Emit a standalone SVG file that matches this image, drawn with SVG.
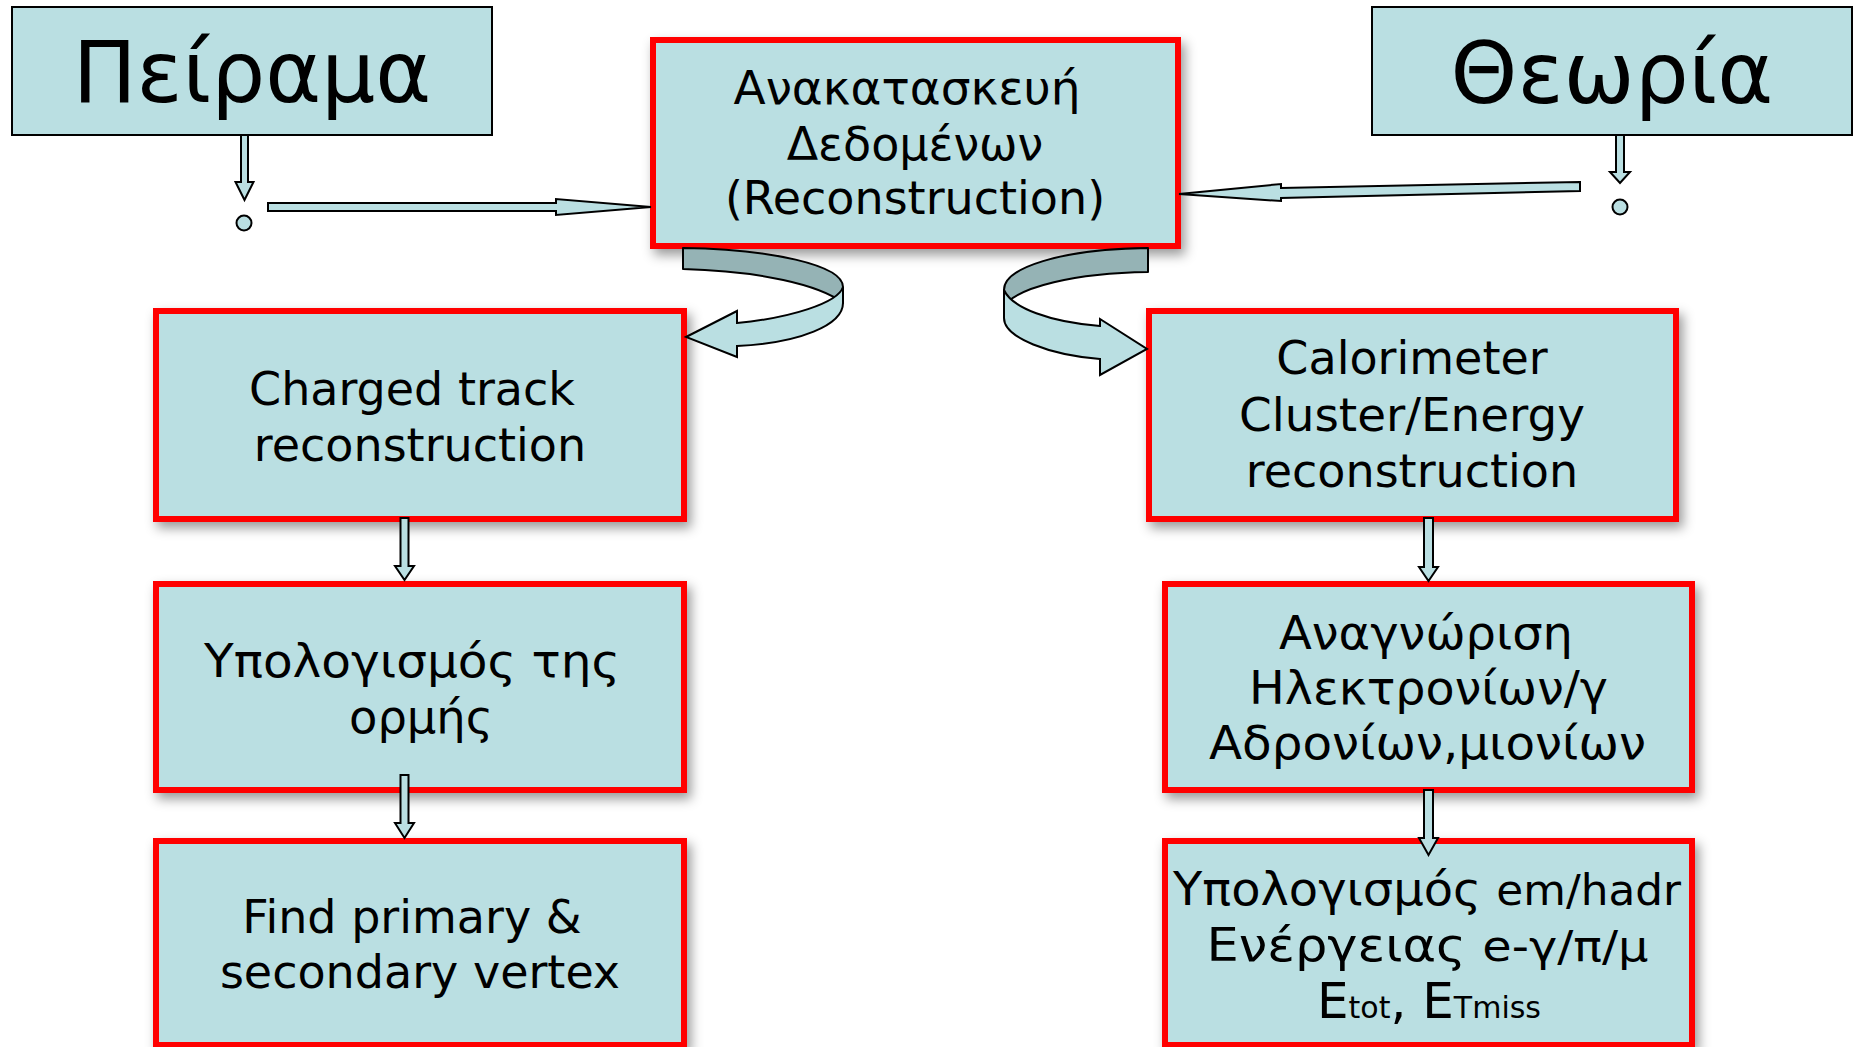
<svg xmlns="http://www.w3.org/2000/svg" width="1856" height="1047" viewBox="0 0 1856 1047">
  <defs>
    <filter id="shadow" x="-10%" y="-10%" width="125%" height="130%">
      <feDropShadow dx="4" dy="6" stdDeviation="6" flood-color="#000" flood-opacity="0.4"/>
    </filter>
  </defs>
  <style>
    .plain { fill: #BADFE2; stroke: #000; stroke-width: 2; }
    .step { fill: #BADFE2; stroke: #FF0000; stroke-width: 6; filter: url(#shadow); }
    .lbl { font-family: "DejaVu Sans", sans-serif; fill: #000; text-anchor: middle; }
    .big { font-size: 85px; }
    .mid { font-size: 46px; }
    .block { fill: #BADFE2; stroke: #000; stroke-width: 2; stroke-linejoin: miter; }
    .back { fill: #95B3B5; stroke: #000; stroke-width: 2; stroke-linejoin: round; }
    .front { fill: #BADFE2; stroke: #000; stroke-width: 2; stroke-linejoin: miter; }
  </style>

  <!-- source boxes -->
  <g id="node-peirama">
    <rect class="plain" x="12" y="7" width="480" height="128"/>
    <text class="lbl big" x="252" y="102">Πείραμα</text>
  </g>
  <g id="node-theoria">
    <rect class="plain" x="1372" y="7" width="480" height="128"/>
    <text class="lbl big" x="1612" y="103">Θεωρία</text>
  </g>

  <!-- reconstruction stage -->
  <g id="node-reconstruction">
    <rect class="step" x="653" y="40" width="525" height="206"/>
    <text class="lbl mid" x="907" y="104" textLength="347" lengthAdjust="spacingAndGlyphs">Ανακατασκευή</text>
    <text class="lbl mid" x="915" y="160">Δεδομένων</text>
    <text class="lbl mid" x="915" y="214">(Reconstruction)</text>
  </g>

  <!-- tracking branch -->
  <g id="node-tracks">
    <rect class="step" x="156" y="311" width="528" height="208"/>
    <text class="lbl mid" x="412" y="405">Charged track</text>
    <text class="lbl mid" x="420" y="461">reconstruction</text>
  </g>
  <g id="node-momentum">
    <rect class="step" x="156" y="584" width="528" height="206"/>
    <text class="lbl mid" x="412" y="677" textLength="416" lengthAdjust="spacingAndGlyphs">Υπολογισμός της</text>
    <text class="lbl mid" x="421" y="733" textLength="144" lengthAdjust="spacingAndGlyphs">ορμής</text>
  </g>
  <g id="node-vertex">
    <rect class="step" x="156" y="841" width="528" height="204"/>
    <text class="lbl mid" x="412" y="933">Find primary &amp;</text>
    <text class="lbl mid" x="420" y="988">secondary vertex</text>
  </g>

  <!-- calorimeter branch -->
  <g id="node-calorimeter">
    <rect class="step" x="1149" y="311" width="527" height="208"/>
    <text class="lbl mid" x="1412" y="374">Calorimeter</text>
    <text class="lbl mid" x="1412" y="431" textLength="346" lengthAdjust="spacingAndGlyphs">Cluster/Energy</text>
    <text class="lbl mid" x="1412" y="487">reconstruction</text>
  </g>
  <g id="node-identification">
    <rect class="step" x="1165" y="584" width="527" height="206"/>
    <text class="lbl mid" x="1426" y="649" textLength="294" lengthAdjust="spacingAndGlyphs">Αναγνώριση</text>
    <text class="lbl mid" x="1428.5" y="704" textLength="359" lengthAdjust="spacingAndGlyphs">Ηλεκτρονίων/γ</text>
    <text class="lbl mid" x="1427.5" y="759" textLength="437" lengthAdjust="spacingAndGlyphs">Αδρονίων,μιονίων</text>
  </g>
  <g id="node-energy">
    <rect class="step" x="1165" y="841" width="527" height="204"/>
    <text class="lbl mid" x="1427" y="905" textLength="508" lengthAdjust="spacingAndGlyphs">Υπολογισμός <tspan font-size="42">em/hadr</tspan></text>
    <text class="lbl mid" x="1427.5" y="961" textLength="442" lengthAdjust="spacingAndGlyphs">Ενέργειας <tspan font-size="43">e-γ/π/μ</tspan></text>
    <text class="lbl" x="1429" y="1018"><tspan font-size="50">E</tspan><tspan font-size="30">tot</tspan><tspan font-size="50">, E</tspan><tspan font-size="30">Tmiss</tspan></text>
  </g>

  <!-- connectors -->
  <g id="connectors">
    <!-- Πείραμα: down stub, dot, arrow into reconstruction -->
    <polygon class="block" points="241,135 248,135 248,182 253.5,182 244.5,200 235.5,182 241,182"/>
    <circle class="block" cx="244" cy="223" r="7.5"/>
    <polygon class="block" points="268,203 556,203 556,199 651,207 556,215 556,211 268,211"/>

    <!-- Θεωρία: down stub, dot, arrow into reconstruction -->
    <polygon class="block" points="1616,135 1624,135 1624,172 1630,172 1620,183 1610,172 1616,172"/>
    <circle class="block" cx="1620" cy="207" r="7.5"/>
    <polygon class="block" points="1580,182 1281,188 1281,184 1179,194 1281,201 1281,198 1580,191"/>

    <!-- curved ribbon arrow to tracking -->
    <path class="back" d="M683,248 L683,269 C760,271 820,285 843,303 L843,287 C843,265 770,249 683,248 Z"/>
    <path class="front" d="M843,287 L843,303 C843,325 800,343 737,346 L737,357 L686,337 L737,311 L737,323 C790,318 838,303 843,287 Z"/>

    <!-- curved ribbon arrow to calorimeter -->
    <path class="back" d="M1148,248 C1060,249 1004,268 1004,290 L1004,306 C1018,287 1075,273 1148,272 Z"/>
    <path class="front" d="M1004,290 L1004,318 C1004,338 1050,355 1100,359 L1100,375 L1147,349 L1100,319 L1100,326 C1050,322 1012,308 1004,290 Z"/>

    <!-- tracking chain -->
    <polygon class="block" points="400.5,518 408.5,518 408.5,566 414,566 404.5,580 395,566 400.5,566"/>
    <polygon class="block" points="400.5,775 408.5,775 408.5,823 414,823 404.5,838 395,823 400.5,823"/>

    <!-- calorimeter chain -->
    <polygon class="block" points="1424,518 1433,518 1433,567 1438,567 1428.5,581 1419,567 1424,567"/>
    <polygon class="block" points="1424,790 1433,790 1433,838 1438,838 1428.5,855 1419,838 1424,838"/>
  </g>
</svg>
